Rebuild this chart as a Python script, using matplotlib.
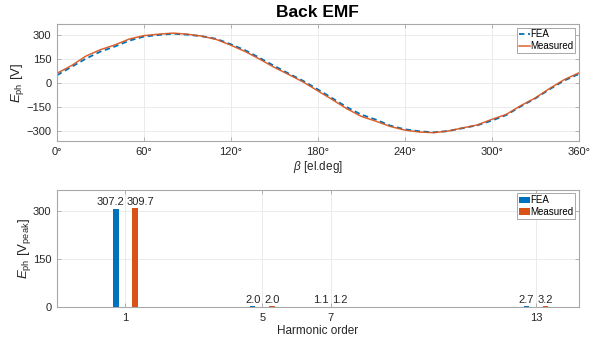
import matplotlib
matplotlib.use("Agg")
import matplotlib.pyplot as plt
import numpy as np

plt.rcParams['font.family'] = ['Liberation Sans', 'DejaVu Sans']
plt.rcParams['mathtext.fontset'] = 'custom'
plt.rcParams['mathtext.rm'] = 'Liberation Sans'
plt.rcParams['mathtext.it'] = 'Liberation Sans:italic'
plt.rcParams['font.size'] = 8

# back EMF over one electrical period
angle_deg = [0, 10, 20, 30, 40, 50, 60, 70, 80, 90, 100, 110, 120, 130, 140, 150, 160, 170, 180,
             190, 200, 210, 220, 230, 240, 250, 260, 270, 280, 290, 300, 310, 320, 330, 340, 350, 360]
emf_fea = [48, 100, 152, 196, 228, 265, 290, 300, 308, 302, 292, 276, 242, 204, 156, 106, 58, 12, -41,
           -96, -152, -199, -230, -268, -291, -303, -310, -302, -284, -266, -237, -202, -148, -98, -40, 14, 55]
emf_meas = [60, 108, 168, 208, 238, 275, 296, 305, 312, 305, 293, 272, 236, 196, 148, 97, 52, 5, -50,
            -105, -162, -210, -240, -273, -296, -308, -312, -302, -282, -264, -229, -198, -143, -95, -35, 20, 62]

# harmonic amplitudes
harm_order = [1, 5, 7, 13]
harm_fea = [307.2, 2.0, 1.1, 2.7]
harm_meas = [309.7, 2.0, 1.2, 3.2]

c_fea = '#0072BD'
c_meas = '#D95319'
spine_c = '#a8a8a8'
grid_c = '#e8e8e8'

fig = plt.figure(figsize=(6.01, 3.45), dpi=100)
ax1 = fig.add_axes([0.0948, 0.591, 0.868, 0.339])
ax2 = fig.add_axes([0.0948, 0.110, 0.868, 0.339])


def style(ax):
    for s in ax.spines.values():
        s.set_color(spine_c)
        s.set_linewidth(0.8)
    ax.tick_params(direction='in', top=True, right=True, length=3, width=0.6,
                   color=spine_c, labelcolor='#262626', labelsize=8, pad=4)
    ax.grid(True, color=grid_c, linewidth=0.6)
    ax.set_axisbelow(True)


# top: waveform
ax1.plot(angle_deg, emf_fea, color=c_fea, lw=1.3, ls=(0, (3, 2)), label='FEA')
ax1.plot(angle_deg, emf_meas, color=c_meas, lw=1.1, label='Measured', alpha=0.9)
ax1.set_xlim(0, 360)
ax1.set_ylim(-365, 368)
ax1.set_xticks(range(0, 361, 60))
ax1.set_xticklabels([f'{d}°' for d in range(0, 361, 60)])
ax1.set_yticks([-300, -150, 0, 150, 300])
style(ax1)
ax1.set_xlabel(r'$\beta$ [el.deg]', fontsize=8.5, color='#262626', labelpad=2)
ax1.set_ylabel(r'$E_{\mathrm{ph}}$ [V]', fontsize=9.5, color='#262626', labelpad=0)
ax1.set_title('Back EMF', fontsize=12.5, fontweight='bold', pad=5)
leg1 = ax1.legend(loc='upper right', fontsize=7, fancybox=False, framealpha=1,
                  edgecolor=spine_c, handlelength=1.1, handletextpad=0.05,
                  borderpad=0.2, labelspacing=0.15, borderaxespad=0.35)
leg1.get_frame().set_linewidth(0.7)

# bottom: harmonics
x = np.array(harm_order, dtype=float)
off = 0.28
w = 0.16
ax2.bar(x - off, harm_fea, width=w, color=c_fea, label='FEA')
ax2.bar(x + off, harm_meas, width=w, color=c_meas, label='Measured')
nudge = [0.16, 0, 0, 0]
for i in range(len(harm_order)):
    ax2.annotate(f'{harm_fea[i]:.1f}', (x[i] - off - nudge[i], harm_fea[i]),
                 xytext=(0, 1), textcoords='offset points', ha='center', va='bottom',
                 fontsize=8, color='#262626',
                 bbox=dict(facecolor='white', edgecolor='none', pad=0.3, alpha=0.8))
    ax2.annotate(f'{harm_meas[i]:.1f}', (x[i] + off + nudge[i], harm_meas[i]),
                 xytext=(0, 1), textcoords='offset points', ha='center', va='bottom',
                 fontsize=8, color='#262626',
                 bbox=dict(facecolor='white', edgecolor='none', pad=0.3, alpha=0.8))
ax2.set_xlim(-1, 14.25)
ax2.set_ylim(0, 366)
ax2.set_xticks(harm_order)
ax2.set_yticks([0, 150, 300])
style(ax2)
ax2.set_xlabel('Harmonic order', fontsize=8.5, color='#262626', labelpad=2)
ax2.set_ylabel(r'$E_{\mathrm{ph}}$ [V$_{\mathrm{peak}}$]', fontsize=9.5, color='#262626', labelpad=0)
leg2 = ax2.legend(loc='upper right', fontsize=7, fancybox=False, framealpha=1,
                  edgecolor=spine_c, handlelength=1.1, handleheight=0.6, handletextpad=0.05,
                  borderpad=0.2, labelspacing=0.15, borderaxespad=0.35)
leg2.get_frame().set_linewidth(0.7)

fig.savefig('out.png', dpi=100)
